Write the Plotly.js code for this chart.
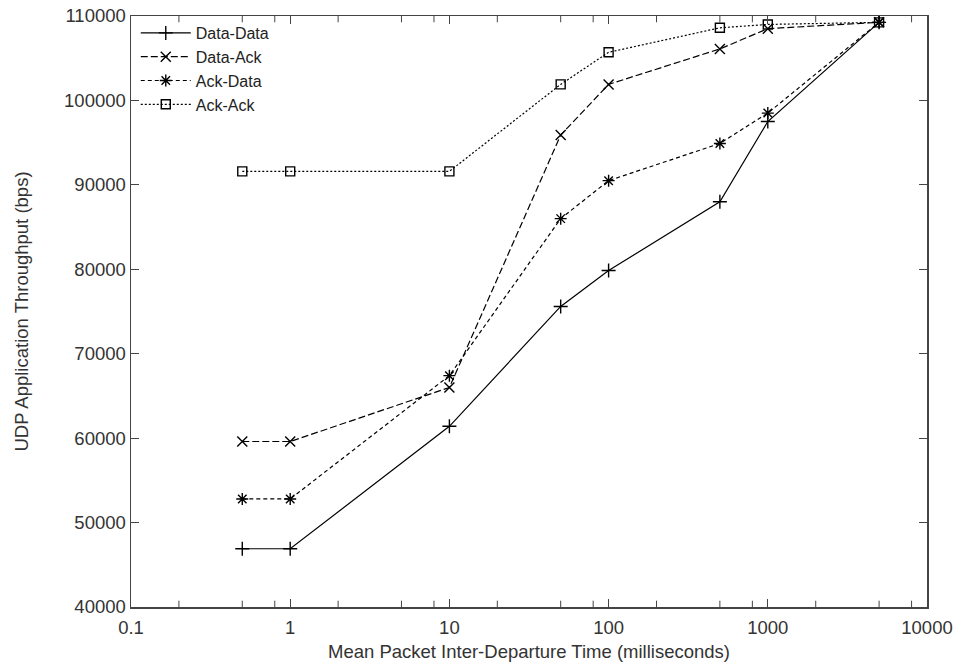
<!DOCTYPE html>
<html>
<head>
<meta charset="utf-8">
<script src="https://cdn.plot.ly/plotly-3.0.1.min.js"></script>
<style>html,body{margin:0;padding:0;background:#fff;}#chart{width:961px;height:669px;}</style>
</head>
<body>
<div id="chart"></div>
<script>
const xValues = [0.5, 1, 10, 50, 100, 500, 1000, 5000];
const dataData = [46900, 46900, 61400, 75600, 79850, 88000, 97500, 109250];
const dataAck = [59600, 59600, 66000, 95900, 101900, 106100, 108500, 109250];
const ackData = [52800, 52800, 67400, 86000, 90500, 94900, 98500, 109250];
const ackAck = [91600, 91600, 91600, 101900, 105700, 108600, 109000, 109250];
const seriesNames = ['Data-Data', 'Data-Ack', 'Ack-Data', 'Ack-Ack'];
const xTickVals = [0.1, 1, 10, 100, 1000, 10000];
const xTickText = ['0.1', '1', '10', '100', '1000', '10000'];
const xMinorVals = [0.2, 0.5, 0.8, 2, 5, 8, 20, 50, 80, 200, 500, 800, 2000, 5000, 8000];
const yRange = [40000, 110000];

const FONT = 'Liberation Sans, Arial, sans-serif';
const TXT = '#333';
function tr(name, y, dash, symbol, msize) {
  return {
    x: xValues, y: y, name: name, type: 'scatter', mode: 'lines+markers',
    line: {color: '#000', width: 1.2, dash: dash},
    marker: {symbol: symbol, size: msize, color: '#000', line: {color: '#000', width: 1.4}}
  };
}
// minor x ticks on the bottom and top frame edges, clipped so only the inner half shows
const minorTicks = {
  x: xMinorVals.concat(xMinorVals),
  y: xMinorVals.map(function(){return yRange[0];}).concat(xMinorVals.map(function(){return yRange[1];})),
  type: 'scatter', mode: 'markers', cliponaxis: true, showlegend: false, hoverinfo: 'skip',
  marker: {symbol: 'line-ns', size: 9, color: '#444', line: {color: '#444', width: 1}}
};
const traces = [
  minorTicks,
  tr(seriesNames[0], dataData, 'solid', 'cross-thin-open', 10),
  tr(seriesNames[1], dataAck, '7px,3px', 'x-thin-open', 10),
  tr(seriesNames[2], ackData, '4px,3px', 'asterisk-open', 10),
  tr(seriesNames[3], ackAck, '2px,2px', 'square-open', 9)
];
const layout = {
  width: 961, height: 669,
  margin: {l: 131, r: 34, t: 16, b: 62},
  paper_bgcolor: '#fff', plot_bgcolor: '#fff',
  font: {family: FONT, color: TXT},
  showlegend: true,
  legend: {x: 0.006, y: 1.0, xanchor: 'left', yanchor: 'top', bgcolor: 'rgba(0,0,0,0)',
           font: {family: FONT, size: 16, color: '#222'}, itemwidth: 50, tracegroupgap: 0},
  xaxis: {
    type: 'log', range: [-1, 4], tickmode: 'array', tickvals: xTickVals, ticktext: xTickText,
    ticks: 'inside', ticklen: 8, tickcolor: '#444', showline: true, mirror: 'allticks', linecolor: '#444', linewidth: 1.5,
    showgrid: false, zeroline: false, ticklabelstandoff: 3,
    tickfont: {family: FONT, size: 18.5, color: TXT},
    title: {text: 'Mean Packet Inter-Departure Time (milliseconds)', font: {family: FONT, size: 18.5, color: TXT}, standoff: 8}
  },
  yaxis: {
    range: yRange, dtick: 10000, tick0: 40000, tickformat: 'd',
    ticks: 'inside', ticklen: 8, tickcolor: '#444', showline: true, mirror: 'allticks', linecolor: '#444', linewidth: 1.5,
    showgrid: false, zeroline: false,
    tickfont: {family: FONT, size: 18.5, color: TXT},
    title: {text: 'UDP Application Throughput (bps)', font: {family: FONT, size: 18.5, color: TXT}, standoff: 30}
  }
};
Plotly.newPlot('chart', traces, layout, {staticPlot: true, displayModeBar: false});
</script>
</body>
</html>
